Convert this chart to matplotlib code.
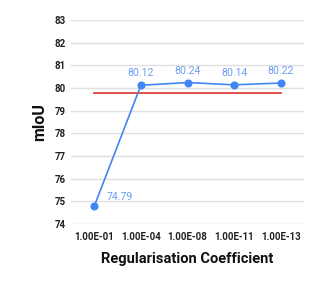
import matplotlib
matplotlib.use("Agg")
import matplotlib.pyplot as plt

categories = ["1.00E-01", "1.00E-04", "1.00E-08", "1.00E-11", "1.00E-13"]
miou = [74.79, 80.12, 80.24, 80.14, 80.22]
baseline = [79.77] * 5

plt.rcParams['font.family'] = ['Roboto', 'DejaVu Sans']

fig = plt.figure(figsize=(3.19, 2.88), dpi=100)
ax = fig.add_axes([71/319, 1-224/288, (304-71)/319, (224-20)/288])

x = list(range(len(categories)))
ax.plot(x, baseline, color="#E0302A", lw=1.2, zorder=2)
ax.plot(x, miou, color="#4285F4", lw=1.2, marker="o", ms=4.8, zorder=3)

for i, v in enumerate(miou):
    if i == 0:
        ax.annotate(f"{v:.2f}", (i, v), xytext=(9, 3), textcoords="offset points",
                    color="#6B9DF3", fontsize=7.6, ha="left", va="bottom")
    else:
        ax.annotate(f"{v:.2f}", (i, v), xytext=(0, 5), textcoords="offset points",
                    color="#6B9DF3", fontsize=7.6, ha="center", va="bottom")

ax.set_xlim(-0.5, 4.5)
ax.set_ylim(74, 83)
ax.set_yticks(range(74, 84))
ax.set_xticks(x)
ax.set_xticklabels(categories)
ax.grid(axis="y", color="#E0E0E0", lw=1)
ax.set_axisbelow(True)
for s in ax.spines.values():
    s.set_visible(False)
ax.tick_params(length=0, labelsize=7)
ax.tick_params(axis="y", pad=4)
ax.tick_params(axis="x", pad=6)
for lbl in ax.get_xticklabels() + ax.get_yticklabels():
    lbl.set_fontweight("bold")
    lbl.set_color("#222222")
ax.set_xlabel("Regularisation Coefficient", fontsize=10.5, fontweight="bold", labelpad=7, color="#111111")
ax.set_ylabel("mIoU", fontsize=11.5, fontweight="bold", labelpad=5, color="#111111")

fig.savefig("out.png", dpi=100)
